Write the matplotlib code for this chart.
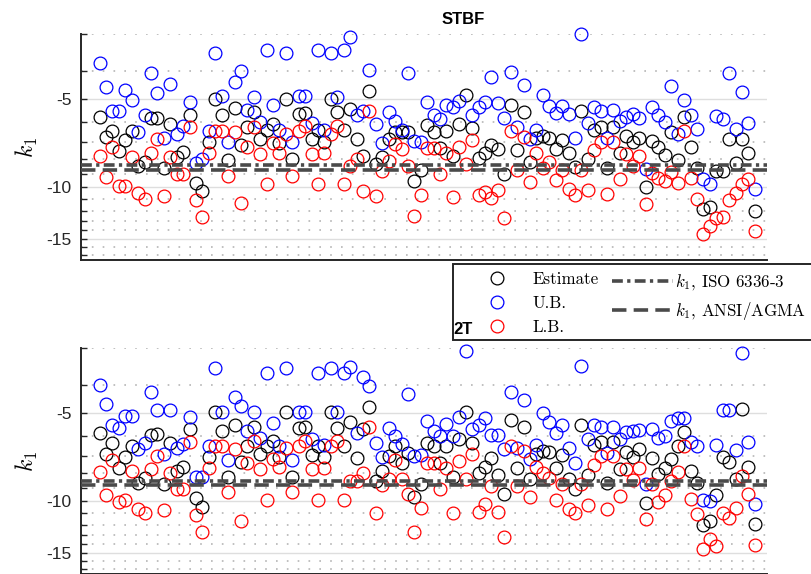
import numpy as np
import matplotlib.pyplot as plt
from matplotlib.lines import Line2D
from matplotlib.patches import Rectangle
from matplotlib.ticker import FixedLocator, FuncFormatter, NullLocator

plt.rcParams['axes.unicode_minus'] = False
plt.rcParams['mathtext.fontset'] = 'cm'
plt.rcParams['font.family'] = ['Liberation Sans', 'DejaVu Sans']

# sample index (x axis has no labels)
idx = np.arange(1, 104)

# ---- STBF ----
stbf_est = [-5.75, -6.72, -6.42, -7.52, -6.91, -6.42, -8.46, -8.17, -5.82, -5.82,
            -8.62, -6.09, -7.86, -7.56, -5.66, -9.65, -10.3, -6.99, -5.0, -5.66,
            -8.07, -5.38, -7.19, -6.22, -5.55, -6.86, -6.39, -6.09, -7.04, -5.0,
            -8.02, -5.63, -5.6, -6.86, -6.39, -6.99, -5.0, -5.55, -6.39, -5.41,
            -6.86, -7.82, -4.68, -8.35, -7.88, -6.86, -6.5, -6.5, -6.5, -9.52,
            -8.73, -6.12, -6.5, -7.32, -6.42, -7.82, -6.09, -4.84, -6.28, -7.92,
            -7.62, -7.17, -7.42, -8.98, -5.24, -7.48, -5.55, -8.17, -6.77, -6.68,
            -6.77, -7.42, -6.91, -7.62, -8.53, -5.51, -8.02, -6.39, -6.25, -8.57,
            -6.22, -7.62, -6.68, -6.99, -6.77, -10.0, -6.95, -7.28, -7.78, -6.5,
            -8.09, -5.75, -7.26, -8.57, -11.85, -11.68, -8.8, -8.8, -6.82, -8.24,
            -6.82, -7.64, -12.03]
stbf_ub = [-3.76, -4.54, -5.51, -5.51, -4.64, -5.04, -6.5, -5.67, -4.07, -4.76,
           -6.77, -4.45, -6.56, -6.19, -5.11, -8.24, -8.02, -6.42, -3.48, -4.88,
           -7.0, -4.36, -4.01, -5.45, -4.93, -6.01, -3.4, -5.23, -6.39, -3.48,
           -6.99, -4.9, -4.9, -6.04, -3.4, -6.39, -3.48, -4.93, -3.4, -3.08,
           -5.66, -5.51, -3.98, -6.09, -7.04, -5.55, -5.93, -6.39, -4.06, -6.95,
           -6.99, -5.1, -5.66, -5.86, -5.24, -5.31, -5.07, -2.7, -5.66, -5.34,
           -5.1, -4.2, -5.17, -5.81, -4.05, -6.25, -4.48, -6.86, -6.39, -4.84,
           -5.27, -5.6, -5.27, -5.63, -6.77, -3.0, -6.04, -5.34, -5.51, -6.77,
           -5.45, -5.93, -5.75, -5.63, -5.81, -8.69, -5.34, -5.67, -5.98, -4.5,
           -6.59, -5.04, -5.66, -6.33, -9.4, -9.78, -5.7, -5.86, -4.07, -6.33,
           -4.72, -6.04, -10.1]
stbf_lb = [-7.82, -9.22, -7.26, -9.86, -9.86, -7.88, -10.45, -10.94, -7.62, -6.86,
           -10.69, -7.88, -9.03, -9.03, -6.22, -11.04, -12.64, -7.62, -6.45, -6.45,
           -9.15, -6.47, -11.31, -7.28, -6.22, -7.72, -9.78, -7.04, -7.62, -6.56,
           -9.15, -6.42, -6.17, -7.72, -9.78, -7.62, -6.56, -6.17, -9.78, -8.46,
           -8.02, -10.3, -5.51, -10.69, -8.8, -8.13, -7.1, -7.38, -8.46, -12.55,
           -10.6, -7.36, -7.36, -8.98, -7.62, -10.75, -7.28, -8.3, -6.91, -10.66,
           -10.36, -10.84, -10.24, -12.76, -6.45, -8.75, -6.73, -9.57, -7.62, -8.62,
           -8.17, -9.47, -8.75, -10.15, -10.6, -8.75, -10.24, -7.48, -6.99, -10.54,
           -6.99, -9.4, -7.72, -8.46, -7.82, -11.4, -8.92, -9.32, -9.52, -8.87,
           -9.65, -6.45, -9.32, -11.0, -14.42, -13.6, -12.7, -12.64, -11.06, -10.45,
           -9.78, -9.4, -14.1]

# ---- 2T ----
t2_est = [-5.87, -6.91, -6.35, -7.68, -7.04, -6.47, -8.64, -8.3, -5.93, -5.9,
          -8.71, -6.35, -7.88, -7.62, -5.67, -9.73, -10.45, -7.06, -4.94, -5.75,
          -8.24, -5.5, -7.34, -6.47, -5.6, -6.91, -6.47, -6.22, -7.04, -4.94,
          -8.24, -5.64, -5.6, -6.97, -6.47, -7.04, -4.94, -5.64, -6.5, -5.35,
          -7.1, -5.67, -4.78, -8.53, -7.88, -7.0, -6.5, -7.42, -6.82, -9.65,
          -8.75, -6.33, -6.5, -7.42, -6.5, -8.24, -6.14, -4.94, -6.33, -7.98,
          -7.62, -7.1, -8.13, -9.47, -5.28, -7.68, -5.6, -8.37, -6.91, -6.73,
          -6.79, -7.68, -6.97, -8.37, -9.05, -5.5, -8.15, -6.44, -6.3, -8.64,
          -6.3, -7.74, -6.79, -7.04, -6.65, -10.1, -7.1, -8.09, -7.68, -7.19,
          -6.47, -5.82, -7.88, -8.69, -12.03, -11.68, -9.55, -7.04, -7.34, -8.4,
          -4.84, -7.64, -11.96]
t2_ub = [-4.0, -4.66, -5.5, -5.64, -5.11, -5.11, -6.61, -6.33, -4.23, -4.87,
         -6.91, -4.9, -6.56, -6.39, -5.15, -8.24, -8.26, -6.47, -3.5, -4.97,
         -7.24, -4.42, -4.72, -5.75, -4.97, -6.06, -3.65, -5.42, -6.47, -3.51,
         -7.22, -4.94, -4.94, -6.11, -3.65, -6.44, -3.51, -4.97, -3.65, -3.48,
         -5.86, -3.77, -4.05, -6.33, -7.04, -5.64, -6.01, -6.39, -4.31, -7.0,
         -6.97, -5.31, -5.75, -5.98, -5.45, -6.01, -5.14, -3.06, -5.67, -5.5,
         -5.21, -5.95, -5.95, -6.65, -4.25, -6.56, -4.5, -7.19, -6.44, -5.0,
         -5.38, -5.86, -5.5, -6.56, -7.38, -3.46, -6.11, -5.5, -5.6, -6.86,
         -5.6, -6.14, -5.8, -5.75, -5.7, -8.75, -5.67, -6.06, -6.01, -5.31,
         -5.21, -5.21, -6.3, -6.5, -9.86, -9.99, -6.44, -4.88, -4.88, -6.68,
         -3.11, -6.27, -10.24]
t2_lb = [-7.94, -9.52, -7.22, -10.03, -9.93, -7.88, -10.6, -10.94, -7.78, -7.0,
         -10.69, -7.98, -9.1, -9.1, -6.3, -11.1, -12.73, -7.68, -6.5, -6.5,
         -9.3, -6.61, -11.68, -7.38, -6.22, -7.78, -9.93, -7.19, -7.64, -6.56,
         -9.3, -6.47, -6.22, -7.78, -9.93, -7.68, -6.47, -6.22, -9.93, -8.53,
         -8.53, -7.98, -5.6, -10.94, -8.8, -8.37, -7.22, -8.37, -9.47, -12.73,
         -10.54, -7.38, -7.38, -9.05, -7.68, -10.94, -7.28, -8.4, -6.91, -10.84,
         -10.24, -8.87, -10.84, -13.24, -6.5, -8.87, -6.73, -9.65, -7.62, -7.98,
         -8.3, -9.86, -8.75, -10.63, -10.97, -8.75, -10.33, -7.54, -7.0, -10.63,
         -7.0, -9.6, -7.78, -8.46, -7.68, -11.5, -8.75, -10.03, -9.55, -8.53,
         -7.94, -6.5, -9.81, -11.06, -14.54, -13.44, -14.2, -10.94, -11.43, -10.54,
         -8.2, -9.47, -14.05]

# reference k1 values
iso_k1 = {'STBF': -8.4, '2T': -8.55}
ansi_k1 = {'STBF': -8.75, '2T': -8.8}

ylo, yhi = -17.7, -3.0
major = [-15, -10, -5]
minor = [-18, -17, -16, -14, -13, -12, -11, -9, -8, -7, -6, -4, -3]

ISO_LS = (0, (3, 1.2, 0.9, 1.2))
ANSI_LS = (0, (4, 2))
LINE_C = '#4a4a4a'
W, H = 811, 574


def fwd(y):
    y = np.asarray(y, dtype=float)
    return -np.log10(np.clip(-y, 1e-6, None))


def inv(v):
    return -10.0 ** (-np.asarray(v, dtype=float))


def panel(ax, est, ub, lb, name, tpad):
    ax.set_yscale('function', functions=(fwd, inv))
    for vals, col in ((est, 'k'), (ub, '#0000ff'), (lb, '#ff0000')):
        v = np.array(vals)
        ok = v <= yhi
        ax.plot(idx[ok], v[ok], 'o', mfc='none', mec=col, ms=9.2, mew=0.9,
                ls='none', clip_on=False, zorder=3)
    ax.axhline(iso_k1[name], color=LINE_C, lw=2.6, ls=ISO_LS, zorder=4)
    ax.axhline(ansi_k1[name], color=LINE_C, lw=2.6, ls=ANSI_LS, zorder=4)

    ax.set_ylim(ylo, yhi)
    ax.set_xlim(-1.9, 104.9)
    ax.yaxis.set_major_locator(FixedLocator(major))
    ax.yaxis.set_minor_locator(FixedLocator(minor))
    ax.yaxis.set_major_formatter(FuncFormatter(lambda v, p: '%g' % v))
    ax.yaxis.set_minor_formatter(FuncFormatter(lambda v, p: ''))
    ax.xaxis.set_major_locator(NullLocator())
    ax.xaxis.set_minor_locator(NullLocator())
    ax.grid(True, which='major', axis='y', color='#dedede', lw=1.0)
    ax.grid(True, which='minor', axis='y', color='#b5b5b5', lw=1.2, ls=(0, (1, 5.5)))
    ax.set_axisbelow(True)
    for s in ('top', 'right'):
        ax.spines[s].set_visible(False)
    for s in ('left', 'bottom'):
        ax.spines[s].set_color('#262626')
        ax.spines[s].set_linewidth(1.4)
    ax.tick_params(axis='y', which='both', direction='in', length=4, width=1,
                   color='#262626', labelsize=12.5, pad=7, labelcolor='#262626')
    ax.set_ylabel(r'$k_1$', fontsize=17, labelpad=4)
    ax.set_title(name, fontweight='bold', fontsize=12, x=0.557, pad=tpad)


fig = plt.figure(figsize=(W / 100, H / 100), dpi=100)
ax1 = fig.add_axes([81 / W, 1 - 260 / H, 686 / W, 226 / H])
ax2 = fig.add_axes([81 / W, 0, 686 / W, 226 / H])
ax1.set_zorder(1)
ax2.set_zorder(2)  # so the "2T" title sits over the legend box
panel(ax1, stbf_est, stbf_ub, stbf_lb, 'STBF', 7)
panel(ax2, t2_est, t2_ub, t2_lb, '2T', 10)

# legend: one box, markers column and lines column
box = Rectangle((453 / W, 1 - 340 / H), 400 / W, 76 / H, transform=fig.transFigure,
                facecolor='white', edgecolor='#262626', lw=1.4, clip_on=False, zorder=6)
ax1.add_artist(box)

mk = dict(marker='o', ls='none', mfc='none', ms=9.2, mew=0.9)
mark_h = [Line2D([], [], mec=c, **mk) for c in ('k', '#0000ff', '#ff0000')]
line_h = [Line2D([], [], color=LINE_C, lw=2.6, ls=ISO_LS),
          Line2D([], [], color=LINE_C, lw=2.6, ls=ANSI_LS)]
common = dict(loc='upper left', bbox_transform=fig.transFigure, borderaxespad=0,
              borderpad=0, frameon=False, prop={'family': 'cmr10', 'size': 12.2},
              labelspacing=0.49)
leg_a = ax1.legend(mark_h, ['Estimate', 'U.B.', 'L.B.'],
                   bbox_to_anchor=(480 / W, 1 - 272 / H),
                   handlelength=2.0, handletextpad=1.1, **common)
leg_a.set_zorder(7)
ax1.add_artist(leg_a)
leg_b = ax1.legend(line_h, [r'$k_1$, ISO 6336-3', r'$k_1$, ANSI/AGMA'],
                   bbox_to_anchor=(612 / W, 1 - 272 / H),
                   handlelength=3.6, handletextpad=0.12, **common)
leg_b.set_zorder(7)

fig.savefig('out.png', dpi=100)
